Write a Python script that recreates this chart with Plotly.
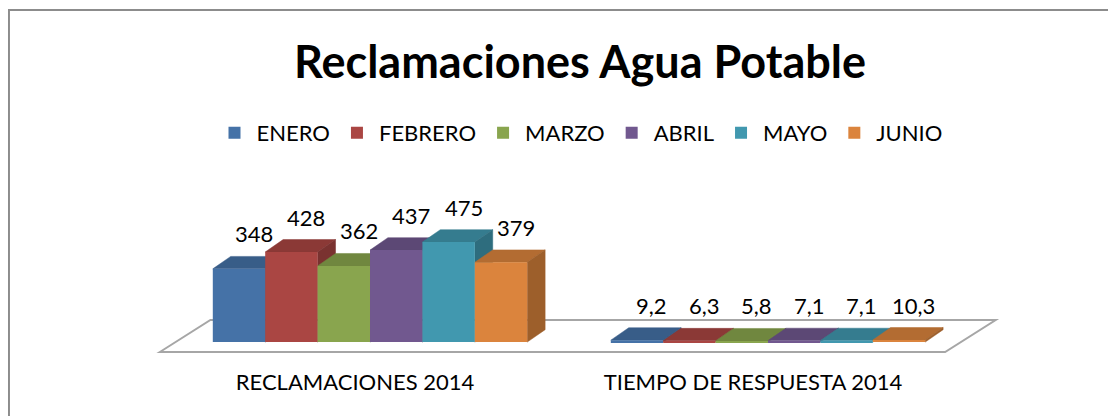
import plotly.graph_objects as go

# Datos del gráfico
categorias = ["RECLAMACIONES 2014", "TIEMPO DE RESPUESTA 2014"]
meses = ["ENERO", "FEBRERO", "MARZO", "ABRIL", "MAYO", "JUNIO"]
enero = [348, 9.2]
febrero = [428, 6.3]
marzo = [362, 5.8]
abril = [437, 7.1]
mayo = [475, 7.1]
junio = [379, 10.3]
series = [enero, febrero, marzo, abril, mayo, junio]
colores = ["#4572A7", "#AA4643", "#89A54E", "#71588F", "#4198AF", "#DB843D"]

FUENTE = "Lato"
BARGAP = 0.21
ANCHO = (1 - BARGAP) / len(series)
DX = 0.045   # profundidad 3D en unidades de x
DY = 59      # profundidad 3D en unidades de y
X_RANGE = [-0.5528, 1.608]
Y_RANGE = [-85, 770]


def sombra(color_hex, f):
    r, g, b = (int(color_hex[i:i + 2], 16) for i in (1, 3, 5))
    return f"rgb({int(r * f)},{int(g * f)},{int(b * f)})"


def texto(v):
    return f"{v:g}".replace(".", ",")


fig = go.Figure()
posiciones = list(range(len(categorias)))

# Caras superior y lateral (capa de fondo)
for i, (vals, col) in enumerate(zip(series, colores)):
    xs_top, ys_top, xs_side, ys_side = [], [], [], []
    for p, h in zip(posiciones, vals):
        izq = p - (1 - BARGAP) / 2 + i * ANCHO
        der = izq + ANCHO
        xs_top += [izq, der, der + DX, izq + DX, izq, None]
        ys_top += [h, h, h + DY, h + DY, h, None]
        xs_side += [der, der, der + DX, der + DX, der, None]
        ys_side += [0, h, h + DY, DY, 0, None]
    fig.add_trace(go.Scatter(
        x=xs_top, y=ys_top, fill="toself", mode="lines",
        fillcolor=sombra(col, 0.82), line=dict(color=sombra(col, 0.82), width=0.5),
        showlegend=False, hoverinfo="skip",
    ))
    fig.add_trace(go.Scatter(
        x=xs_side, y=ys_side, fill="toself", mode="lines",
        fillcolor=sombra(col, 0.72), line=dict(color=sombra(col, 0.72), width=0.5),
        showlegend=False, hoverinfo="skip",
    ))

# Caras frontales (eje superpuesto)
for i, (vals, nombre, col) in enumerate(zip(series, meses, colores)):
    fig.add_trace(go.Bar(
        x=posiciones, y=vals, name=nombre,
        width=ANCHO, offset=-(1 - BARGAP) / 2 + i * ANCHO,
        marker=dict(color=col, line=dict(width=0)),
        xaxis="x2", yaxis="y2",
    ))

# Etiquetas de datos
for i, vals in enumerate(series):
    for p, h in zip(posiciones, vals):
        centro = p - (1 - BARGAP) / 2 + (i + 0.5) * ANCHO
        fig.add_annotation(
            x=centro + DX, y=h + DY, text=texto(h), showarrow=False,
            xanchor="center", yanchor="bottom", xshift=-3, yshift=7,
            font=dict(family=FUENTE, size=22, color="black"),
        )

# Piso
fx0, fx1, fdx = -0.528, 1.445, 0.127
fy0, fy1 = -47, 105
fig.add_shape(
    type="path", xref="x", yref="y", layer="below",
    path=f"M {fx0},{fy0} L {fx0 + fdx},{fy1} L {fx1 + fdx},{fy1} L {fx1},{fy0} Z",
    fillcolor="white", line=dict(color="#a6a6a6", width=2),
)

# Marco del gráfico
fig.add_shape(
    type="rect", xref="paper", yref="paper",
    x0=-0.1640, x1=1.2, y0=-0.5, y1=1.944,
    line=dict(color="#8c8c8c", width=2), fillcolor="rgba(0,0,0,0)",
)

fig.update_layout(
    width=1116, height=416,
    barmode="overlay",
    paper_bgcolor="white",
    plot_bgcolor="white",
    font=dict(family=FUENTE, color="black"),
    margin=dict(l=142, r=114, t=172, b=64),
    title=dict(
        text="<b>Reclamaciones Agua Potable</b>",
        x=0.5, xref="paper", xanchor="center",
        y=1 - 54 / 416, yanchor="middle",
        font=dict(family=FUENTE, size=45, color="black"),
    ),
    legend=dict(
        orientation="h", x=0.5, xanchor="center", y=1.261, yanchor="middle",
        font=dict(family=FUENTE, size=22, color="black"),
        bgcolor="rgba(0,0,0,0)", itemwidth=34,
    ),
    xaxis=dict(
        range=X_RANGE, tickvals=posiciones, ticktext=categorias,
        showgrid=False, zeroline=False, showline=False, ticks="",
        tickfont=dict(family=FUENTE, size=22, color="black"),
        ticklabelshift=-15, ticklabelstandoff=7,
    ),
    yaxis=dict(range=Y_RANGE, visible=False),
    xaxis2=dict(range=X_RANGE, overlaying="x", visible=False),
    yaxis2=dict(range=Y_RANGE, overlaying="y", visible=False),
    showlegend=True,
)

fig.write_html("out.html")
